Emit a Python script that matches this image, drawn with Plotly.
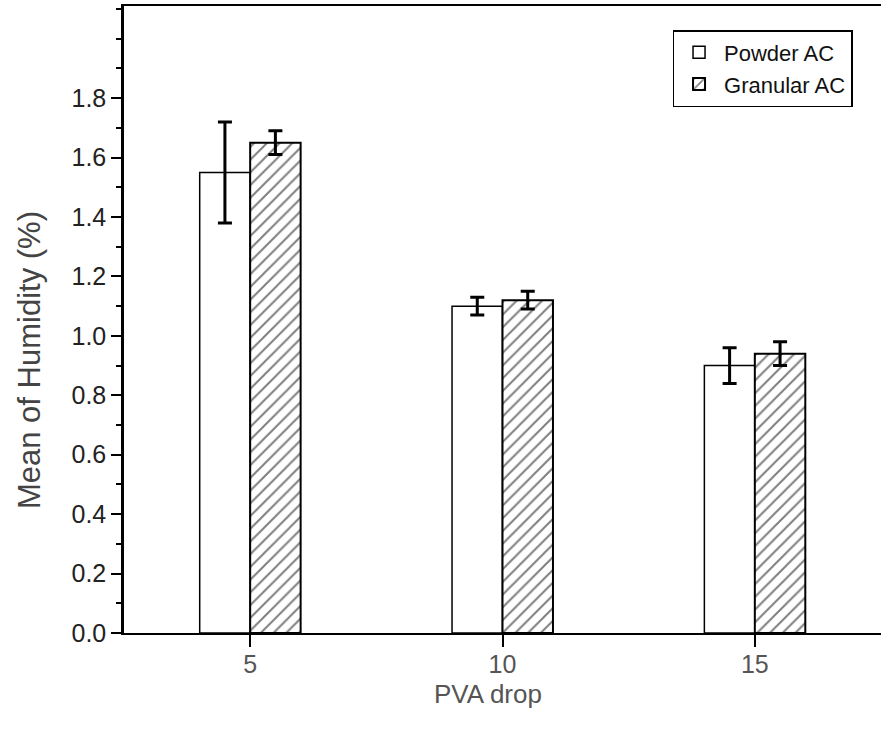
import plotly.graph_objects as go

pva_drop = [5, 10, 15]
powder_mean = [1.55, 1.10, 0.90]
powder_err = [0.17, 0.03, 0.06]
granular_mean = [1.65, 1.12, 0.94]
granular_err = [0.04, 0.03, 0.04]
x_ticks = [5, 10, 15]
y_ticks = [0.0, 0.2, 0.4, 0.6, 0.8, 1.0, 1.2, 1.4, 1.6, 1.8]

FONT = "Liberation Sans, Arial, sans-serif"

fig = go.Figure()
fig.add_trace(go.Bar(
    name="Powder AC", x=pva_drop, y=powder_mean, width=1, offset=-1,
    marker=dict(color="white", line=dict(color="black", width=1.5)),
    error_y=dict(type="data", array=powder_err, color="black", thickness=3, width=7),
))
fig.add_trace(go.Bar(
    name="Granular AC", x=pva_drop, y=granular_mean, width=1, offset=0,
    marker=dict(color="white", line=dict(color="black", width=2),
                pattern=dict(shape="/", fgcolor="black", bgcolor="white", size=9, solidity=0.22)),
    error_y=dict(type="data", array=granular_err, color="black", thickness=3, width=7),
))

fig.update_layout(
    width=885, height=729,
    margin=dict(l=124, r=3.5, t=6, b=96),
    paper_bgcolor="white", plot_bgcolor="white",
    font=dict(family=FONT, size=24, color="#222"),
    showlegend=True,
    legend=dict(x=0.9624, y=0.9617, xanchor="right", yanchor="top",
                bordercolor="black", borderwidth=1.5, bgcolor="white",
                font=dict(size=22, color="#111"), tracegroupgap=0,
                itemwidth=40),
    xaxis=dict(range=[2.5, 17.5], tickvals=x_ticks, ticktext=[str(v) for v in x_ticks],
               showline=True, linecolor="black", linewidth=2, mirror=True,
               ticks="outside", ticklen=12, tickwidth=2, tickcolor="black",
               ticklabelstandoff=-4,
               showgrid=False, zeroline=False, tickfont=dict(size=25, color="#555")),
    yaxis=dict(range=[0, 2.11], tickvals=y_ticks, ticktext=[f"{v:.1f}" for v in y_ticks],
               showline=True, linecolor="black", linewidth=2.5, mirror=False,
               ticks="outside", ticklen=10, tickwidth=2, tickcolor="black",
               minor=dict(dtick=0.1, tick0=0, ticks="outside", ticklen=5, tickwidth=2, tickcolor="black", showgrid=False),
               showgrid=False, zeroline=False, tickfont=dict(size=25, color="#222")),
    annotations=[
        dict(text="Mean of Humidity (%)", textangle=-90, xref="paper", yref="paper",
             x=(29 - 124) / 757.5, y=(633 - 360) / 627, showarrow=False,
             font=dict(size=31, color="#444"), xanchor="center", yanchor="middle"),
        dict(text="PVA drop", xref="paper", yref="paper",
             x=(488 - 124) / 757.5, y=(633 - 694) / 627, showarrow=False,
             font=dict(size=26, color="#555"), xanchor="center", yanchor="middle"),
    ],
)

fig.write_html("out.html")
